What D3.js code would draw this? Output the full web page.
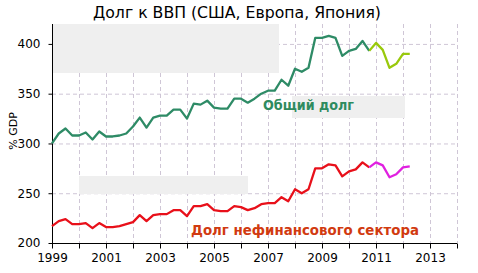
<!DOCTYPE html>
<html>
<head>
<meta charset="utf-8">
<script src="https://cdn.jsdelivr.net/npm/d3@7"></script>
<style>
  body { margin: 0; background: #fff; }
  svg { display: block; }
</style>
</head>
<body>
<div id="main"></div>
<script>
// quarterly values, first point = 1999 Q1
let startYear = 1999;
let splitYear = 2010.75; // where the line changes colour
let totalDebt = [300, 310, 315, 308, 308, 311, 304, 312, 307, 307, 308, 310,
  317, 326, 316, 326, 328, 328, 334, 334, 325, 340, 339, 343,
  336, 335, 335, 345, 345, 341, 345, 350, 353, 353, 364, 358,
  375, 372, 376, 406, 406, 408, 406, 388, 393, 395, 403, 393,
  401, 394, 376, 380, 390, 390];
let nonFinDebt = [217, 222, 224, 219, 219, 220, 215, 220, 216, 216, 217, 219,
  221, 228, 222, 228, 229, 229, 233, 233, 227, 237, 237, 239,
  233, 232, 232, 237, 236, 233, 235, 239, 240, 240, 246, 242,
  254, 250, 254, 275, 275, 279, 278, 267, 272, 274, 281, 276,
  281, 278, 266, 269, 276, 277];
let yTicks = [200, 250, 300, 350, 400];
let xTickYears = d3.range(1999, 2015);
let xLabelYears = [1999, 2001, 2003, 2005, 2007, 2009, 2011, 2013];

let width = 478, height = 273;

let svg = d3.select("#main")
    .append("svg")
    .attr("width", width)
    .attr("height", height);

let xScale = d3.scaleLinear().domain([1999, 2014]).range([52, 457]);
let yScale = d3.scaleLinear().domain([200, 420]).range([243, 24]);

let gridColor = "#cfc6d6";

// grid
svg.append("g").selectAll("line").data(xTickYears.slice(1))
    .enter().append("line")
    .attr("x1", d => xScale(d) + 0.5).attr("x2", d => xScale(d) + 0.5)
    .attr("y1", yScale(420)).attr("y2", yScale(200))
    .attr("stroke", gridColor).attr("stroke-dasharray", "4,3");

svg.append("g").selectAll("line").data(yTicks.slice(1))
    .enter().append("line")
    .attr("x1", xScale(1999)).attr("x2", xScale(2014))
    .attr("y1", d => yScale(d) + 0.5).attr("y2", d => yScale(d) + 0.5)
    .attr("stroke", gridColor).attr("stroke-dasharray", "4,3");

// grey panels
let boxes = [
    {x: 53, y: 24, w: 226, h: 49},
    {x: 292, y: 96, w: 113, h: 22},
    {x: 79, y: 176, w: 169, h: 18}
];
svg.append("g").selectAll("rect").data(boxes)
    .enter().append("rect")
    .attr("x", d => d.x).attr("y", d => d.y)
    .attr("width", d => d.w).attr("height", d => d.h)
    .attr("fill", "#efefef");

// axes
let yAxis = d3.axisLeft(yScale).tickValues(yTicks).tickSize(4).tickPadding(8);
let gy = svg.append("g")
    .attr("transform", `translate(${xScale(1999) + 0.5},0)`)
    .call(yAxis);
gy.select(".domain").attr("d", `M0,${yScale(420)}V${yScale(200)}`);

let xAxis = d3.axisBottom(xScale).tickValues(xTickYears).tickSize(5).tickPadding(5)
    .tickFormat(d => xLabelYears.includes(d) ? d : "");
let gx = svg.append("g")
    .attr("transform", `translate(0,${yScale(200) + 0.5})`)
    .call(xAxis);
gx.select(".domain").attr("d", `M${xScale(1999)},0H${xScale(2014)}`);

svg.selectAll(".tick text")
    .attr("font-family", "DejaVu Sans, Verdana, sans-serif")
    .attr("font-size", 12)
    .attr("fill", "#000");
svg.selectAll(".domain, .tick line").attr("stroke", "#000");

// lines
let line = d3.line()
    .x(d => xScale(d.t))
    .y(d => yScale(d.v));

function drawSeries(values, colorOld, colorNew) {
    let pts = values.map((v, i) => ({t: startYear + i * 0.25, v: v}));
    svg.append("path")
        .datum(pts.filter(d => d.t <= splitYear))
        .attr("d", line).attr("fill", "none")
        .attr("stroke", colorOld).attr("stroke-width", 2.3)
        .attr("stroke-linejoin", "round");
    svg.append("path")
        .datum(pts.filter(d => d.t >= splitYear))
        .attr("d", line).attr("fill", "none")
        .attr("stroke", colorNew).attr("stroke-width", 2.3)
        .attr("stroke-linejoin", "round");
}
drawSeries(totalDebt, "#2e8b66", "#99c90c");
drawSeries(nonFinDebt, "#e8101a", "#e020e0");

// texts
svg.append("text")
    .attr("x", 237).attr("y", 18)
    .attr("text-anchor", "middle")
    .attr("font-family", "DejaVu Sans, sans-serif")
    .attr("font-size", 15)
    .attr("textLength", 288)
    .attr("lengthAdjust", "spacingAndGlyphs")
    .text("Долг  к ВВП (США, Европа, Япония)");

svg.append("text")
    .attr("x", 263).attr("y", 110)
    .attr("font-family", "DejaVu Sans, sans-serif")
    .attr("font-weight", "bold")
    .attr("font-size", 14)
    .attr("fill", "#2e8b5e")
    .attr("textLength", 91)
    .attr("lengthAdjust", "spacingAndGlyphs")
    .text("Общий долг");

svg.append("text")
    .attr("x", 191).attr("y", 235)
    .attr("font-family", "DejaVu Sans, sans-serif")
    .attr("font-weight", "bold")
    .attr("font-size", 14)
    .attr("fill", "#d13a10")
    .attr("textLength", 228)
    .attr("lengthAdjust", "spacingAndGlyphs")
    .text("Долг нефинансового сектора");

svg.append("text")
    .attr("transform", "translate(17,131) rotate(-90)")
    .attr("text-anchor", "middle")
    .attr("font-family", "DejaVu Sans, sans-serif")
    .attr("font-size", 11)
    .text("% GDP");
</script>
</body>
</html>
